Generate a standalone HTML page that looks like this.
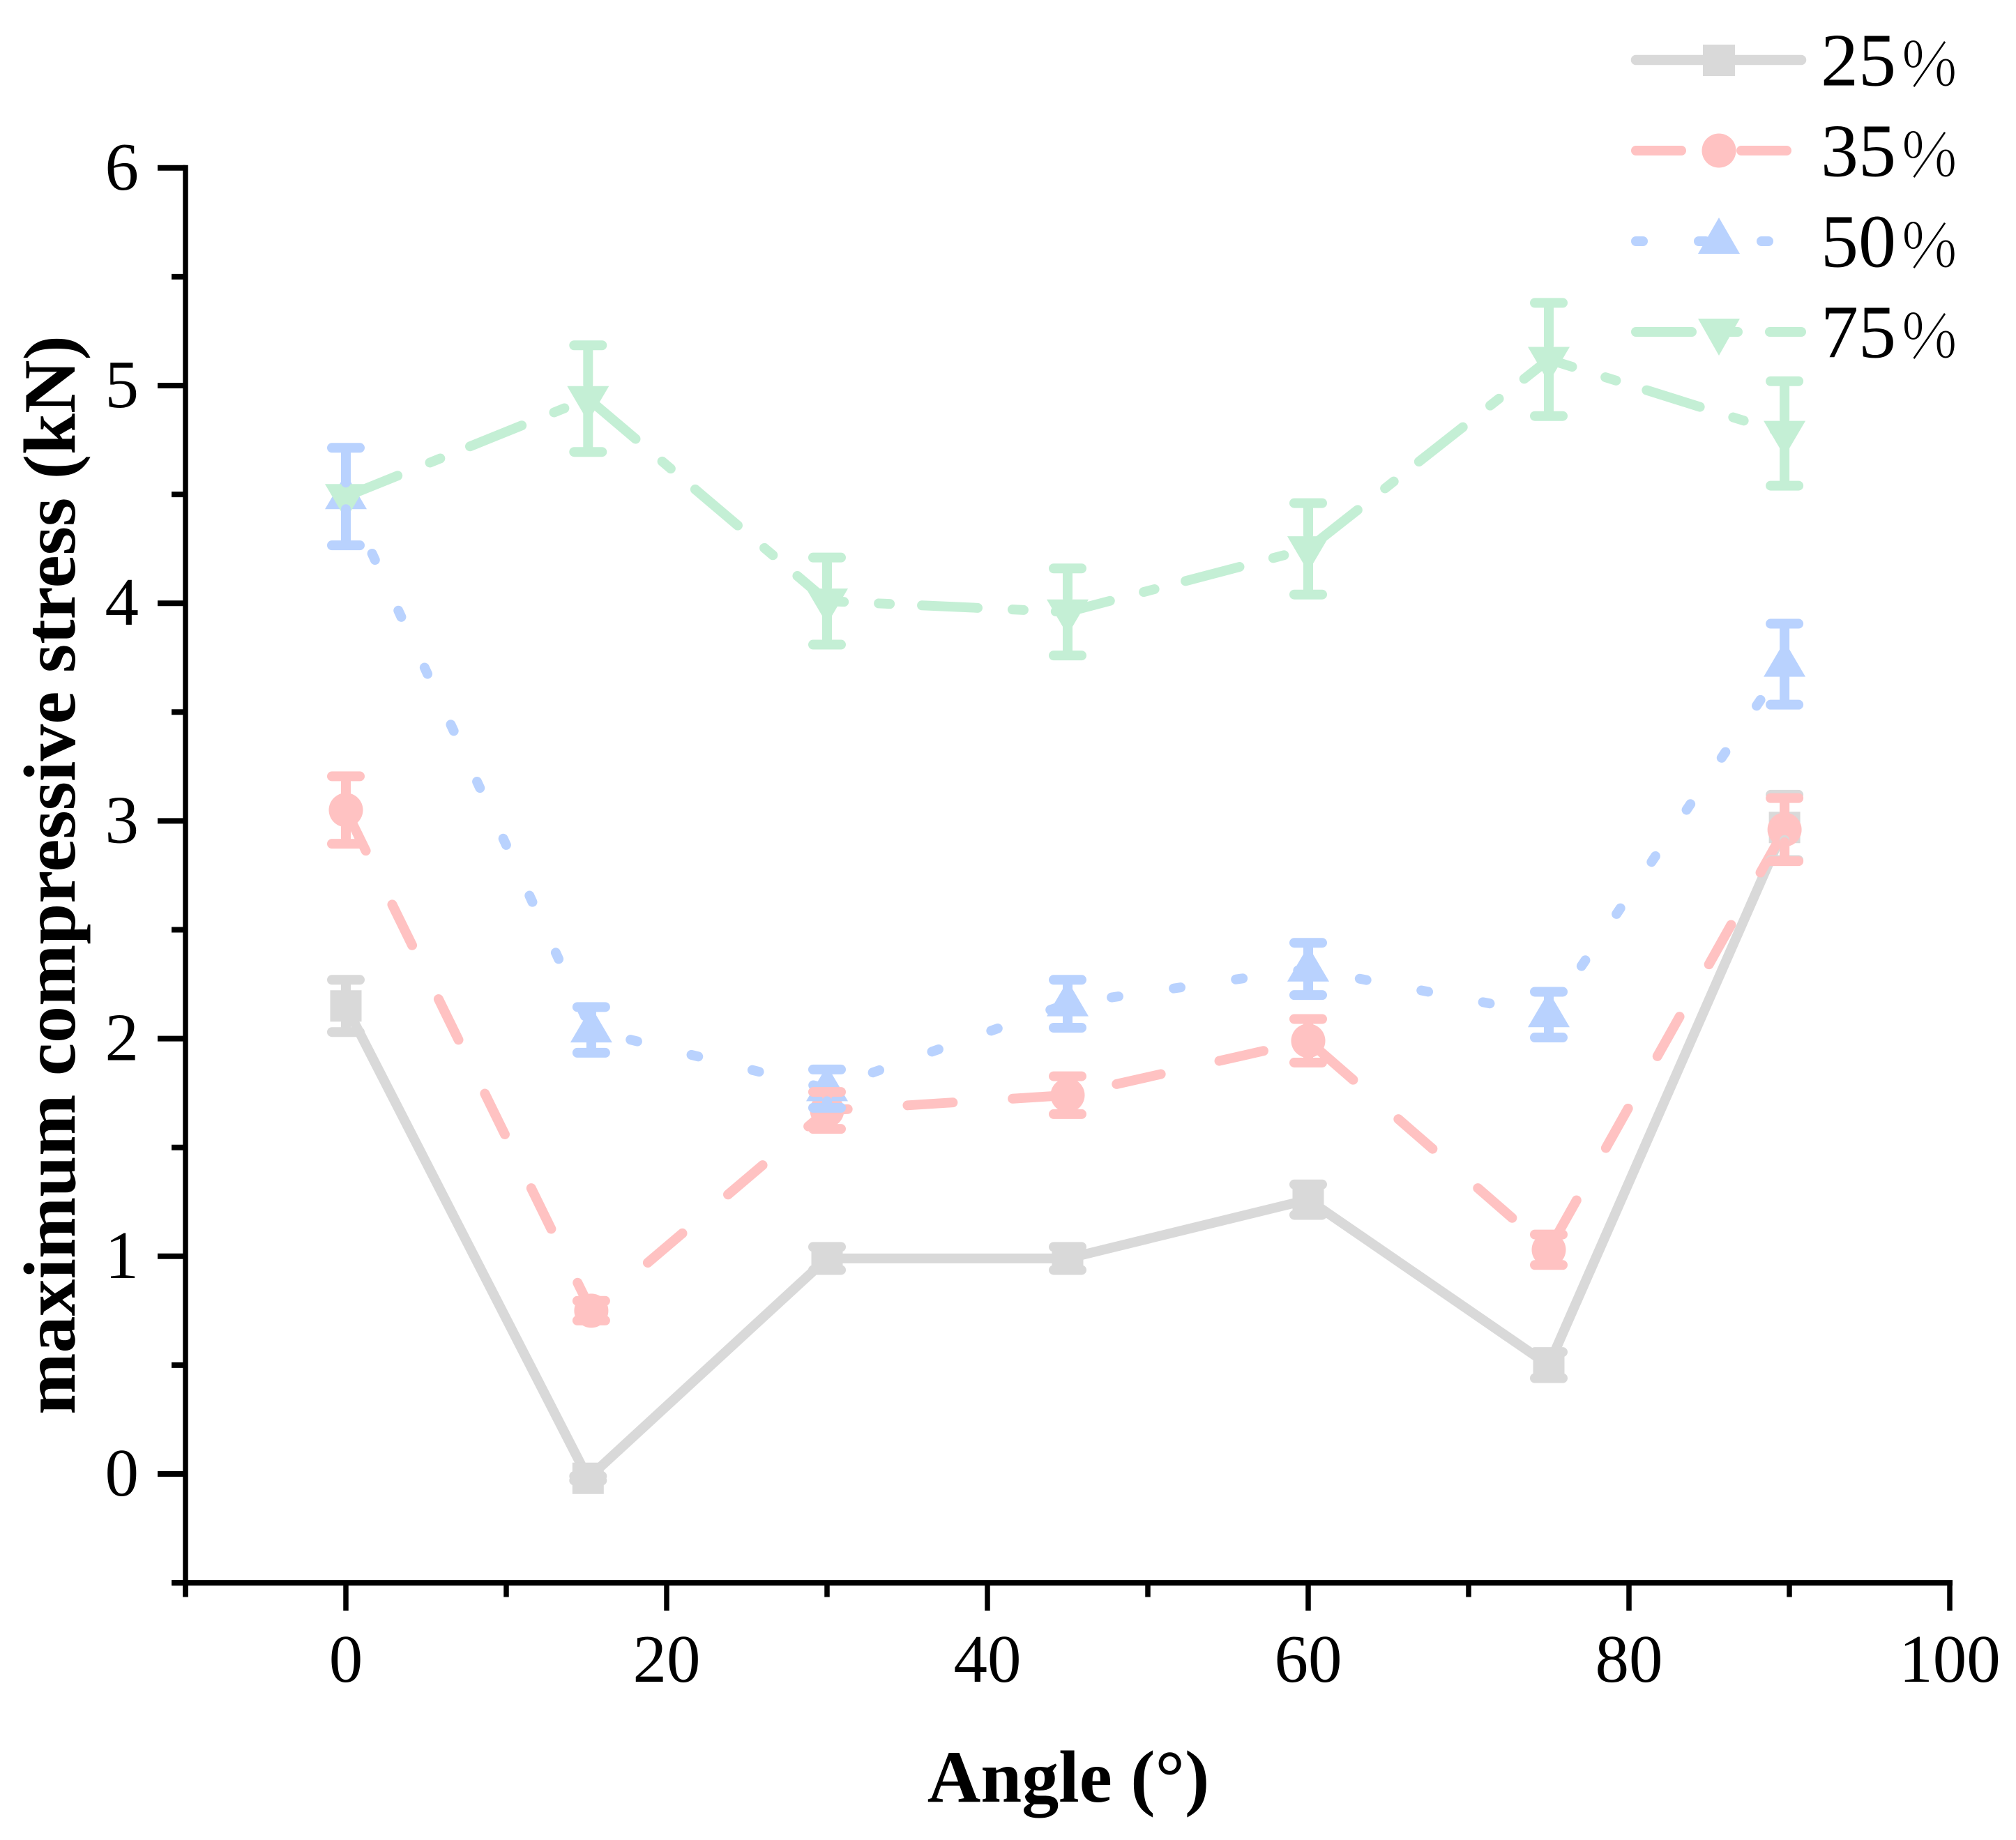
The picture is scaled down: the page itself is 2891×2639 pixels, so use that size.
<!DOCTYPE html>
<html lang="en">
<head>
<meta charset="utf-8">
<title>Maximum compressive stress vs angle</title>
<style>
html,body{margin:0;padding:0;background:#fff;}
svg{display:block;}
text{font-family:"Liberation Serif",serif;fill:#000;}
.tick-label{font-size:97px;}
.legend-label{font-size:108px;}
.legend-percent{font-family:"Noto Serif CJK SC","Liberation Serif",serif;font-size:88px;font-weight:200;}
.axis-title{font-size:106px;font-weight:bold;}
</style>
</head>
<body>
<svg id="chart" xmlns="http://www.w3.org/2000/svg" width="2891" height="2639" viewBox="0 0 2891 2639">
  <rect x="0" y="0" width="2891" height="2639" fill="#ffffff"/>
  <g id="axes"></g>
  <g id="plot"></g>
  <text class="axis-title" text-anchor="middle" transform="translate(107,1255) rotate(-90)">maximum compressive stress (kN)</text>
  <text class="axis-title" text-anchor="middle" x="1532" y="2584">Angle (°)</text>
  <g>
    <g>
      <line x1="2346" y1="86" x2="2583" y2="86" stroke="#d9d9d9" stroke-width="14.5" stroke-linecap="round"/>
      <rect x="2442" y="64" width="46" height="45" fill="#d9d9d9"/>
      <text class="legend-label" x="2611" y="122.5">25<tspan class="legend-percent" x="2727">%</tspan></text>
    </g>
    <g>
      <line x1="2346" y1="216" x2="2583" y2="216" stroke="#ffc2c2" stroke-width="14" stroke-linecap="round" stroke-dasharray="65 86"/>
      <ellipse cx="2465" cy="216" rx="24.5" ry="24.5" fill="#ffc2c2"/>
      <text class="legend-label" x="2611" y="252.5">35<tspan class="legend-percent" x="2727">%</tspan></text>
    </g>
    <g>
      <line x1="2346" y1="346" x2="2583" y2="346" stroke="#b9d2fe" stroke-width="14" stroke-linecap="round" stroke-dasharray="10 80"/>
      <polygon points="2465,312 2495,364 2435,364" fill="#b9d2fe"/>
      <text class="legend-label" x="2611" y="382.5">50<tspan class="legend-percent" x="2727">%</tspan></text>
    </g>
    <g>
      <line x1="2346" y1="476" x2="2583" y2="476" stroke="#c4efd5" stroke-width="14" stroke-linecap="round" stroke-dasharray="80 50 16 46"/>
      <polygon points="2435,457 2495,457 2465,510" fill="#c4efd5"/>
      <text class="legend-label" x="2611" y="512.5">75<tspan class="legend-percent" x="2727">%</tspan></text>
    </g>
  </g>
</svg>
<script>
// ---- chart data ----
var xTickLabels = ["0", "20", "40", "60", "80", "100"];
var xTickValues = [0, 20, 40, 60, 80, 100];
var xMinorValues = [-10, 10, 30, 50, 70, 90];
var yTickLabels = ["0", "1", "2", "3", "4", "5", "6"];
var yTickValues = [0, 1, 2, 3, 4, 5, 6];
var yMinorValues = [-0.5, 0.5, 1.5, 2.5, 3.5, 4.5, 5.5];

var angles25 = [0, 15.1, 30, 45, 60, 75, 89.7];
var values25 = [2.15, -0.02, 0.99, 0.99, 1.26, 0.5, 2.97];
var errors25 = [0.12, 0.01, 0.053, 0.053, 0.07, 0.06, 0.15];

var angles35 = [0, 15.3, 30, 45, 60, 75, 89.7];
var values35 = [3.05, 0.75, 1.67, 1.74, 1.99, 1.03, 2.96];
var errors35 = [0.155, 0.045, 0.085, 0.087, 0.1, 0.07, 0.145];

var angles50 = [0, 15.3, 30, 45, 60, 75, 89.7];
var values50 = [4.49, 2.04, 1.77, 2.16, 2.32, 2.11, 3.72];
var errors50 = [0.224, 0.105, 0.088, 0.11, 0.12, 0.105, 0.186];

var angles75 = [0, 15.1, 30, 45, 60, 75, 89.7];
var values75 = [4.49, 4.94, 4.01, 3.96, 4.25, 5.12, 4.78];
var errors75 = [0, 0.245, 0.2, 0.2, 0.21, 0.26, 0.24];

// ---- axis functions ----
function xScale(v) { return 496 + (v * 23); }
function yScale(v) { return 2114 - (v * 312.2); }

var NS = "http://www.w3.org/2000/svg";
function make(tag, attrs, parent) {
  var n = document.createElementNS(NS, tag);
  for (var k in attrs) { n.setAttribute(k, attrs[k]); }
  parent.appendChild(n);
  return n;
}

var axes = document.getElementById("axes");
var plot = document.getElementById("plot");

// axis lines
var yLine = make("line", {x1: xScale(-10), x2: xScale(-10), y1: yScale(6) - 4, y2: 2290.5, stroke: "#000", "stroke-width": 7.5}, axes);


var xLine = make("line", {x1: 247, x2: xScale(100) + 4, y1: yScale(-0.5), y2: yScale(-0.5), stroke: "#000", "stroke-width": 8}, axes);



// x ticks
xTickValues.forEach(function (v, i) {
  var t = make("line", {x1: xScale(v), x2: xScale(v), y1: yScale(-0.5), y2: 2310, stroke: "#000", "stroke-width": 7.5}, axes);
  
  
  var l = make("text", {x: xScale(v), y: 2412, "text-anchor": "middle", "class": "tick-label"}, axes);
  
  
  l.textContent = xTickLabels[i];
});
xMinorValues.forEach(function (v) {
  var t = make("line", {x1: xScale(v), x2: xScale(v), y1: yScale(-0.5), y2: 2290.5, stroke: "#000", "stroke-width": 7.5}, axes);
  
  
});

// y ticks
yTickValues.forEach(function (v, i) {
  var t = make("line", {x1: 226, x2: xScale(-10), y1: yScale(v), y2: yScale(v), stroke: "#000", "stroke-width": 8}, axes);
  
  
  var l = make("text", {x: 199, y: yScale(v) + 31, "text-anchor": "end", "class": "tick-label"}, axes);
  
  
  l.textContent = yTickLabels[i];
});
yMinorValues.forEach(function (v) {
  var t = make("line", {x1: 246, x2: xScale(-10), y1: yScale(v), y2: yScale(v), stroke: "#000", "stroke-width": 8}, axes);
  
  
});

// marker shapes
function drawMarker(kind, cx, cy, color, parent) {
  if (kind === "square") {
    return make("rect", {x: cx - 22.5, y: cy - 22.5, width: 45, height: 45, fill: color}, parent);
  }
  if (kind === "circle") {
    return make("circle", {cx: cx, cy: cy, r: 24.5, fill: color}, parent);
  }
  if (kind === "up") {
    return make("polygon", {points: cx + "," + (cy - 33) + " " + (cx + 30) + "," + (cy + 18) + " " + (cx - 30) + "," + (cy + 18), fill: color}, parent);
  }
  return make("polygon", {points: (cx - 30) + "," + (cy - 18) + " " + (cx + 30) + "," + (cy - 18) + " " + cx + "," + (cy + 33), fill: color}, parent);
}

function drawSeries(key, angles, values, color, dash, kind) {
  var g = make("g", {}, plot);
  
  

  var d = values.map(function (v, i) {
    return (i ? "L" : "M") + xScale(angles[i]) + " " + yScale(v);
  }).join(" ");
  var attrs = {d: d, fill: "none", stroke: color, "stroke-width": 14, "stroke-linecap": "round", "stroke-linejoin": "round"};
  if (dash) { attrs["stroke-dasharray"] = dash; }
  var path = make("path", attrs, g);
  
  

  values.forEach(function (v, i) {
    var m = drawMarker(kind, xScale(angles[i]), yScale(v), color, g);
    
    
  });
}

// error bars sit above every line and marker and leave a gap around the point
function drawErrors(key, angles, values, errors, color) {
  var g = make("g", {}, plot);
  
  

  values.forEach(function (v, i) {
    if (errors[i] <= 0) { return; }
    var cx = xScale(angles[i]);
    var cy = yScale(v);
    var top = yScale(v + errors[i]);
    var bottom = yScale(v - errors[i]);
    var upperEnd = Math.max(top, cy - 20);
    var lowerEnd = Math.min(bottom, cy + 18);
    var bar = make("path", {
      d: "M" + cx + " " + top + " L" + cx + " " + upperEnd +
         " M" + cx + " " + bottom + " L" + cx + " " + lowerEnd +
         " M" + (cx - 20) + " " + top + " L" + (cx + 20) + " " + top +
         " M" + (cx - 20) + " " + bottom + " L" + (cx + 20) + " " + bottom,
      fill: "none", stroke: color, "stroke-width": 14, "stroke-linecap": "round"
    }, g);
    
    
  });
}

drawSeries("25", angles25, values25, "#d9d9d9", null, "square");
drawSeries("35", angles35, values35, "#ffc2c2", "65 86", "circle");
drawSeries("50", angles50, values50, "#b9d2fe", "10 80", "up");
drawSeries("75", angles75, values75, "#c4efd5", "80 50 16 46", "down");

drawErrors("25", angles25, values25, errors25, "#d9d9d9");
drawErrors("35", angles35, values35, errors35, "#ffc2c2");
drawErrors("50", angles50, values50, errors50, "#b9d2fe");
drawErrors("75", angles75, values75, errors75, "#c4efd5");
</script>
</body>
</html>
